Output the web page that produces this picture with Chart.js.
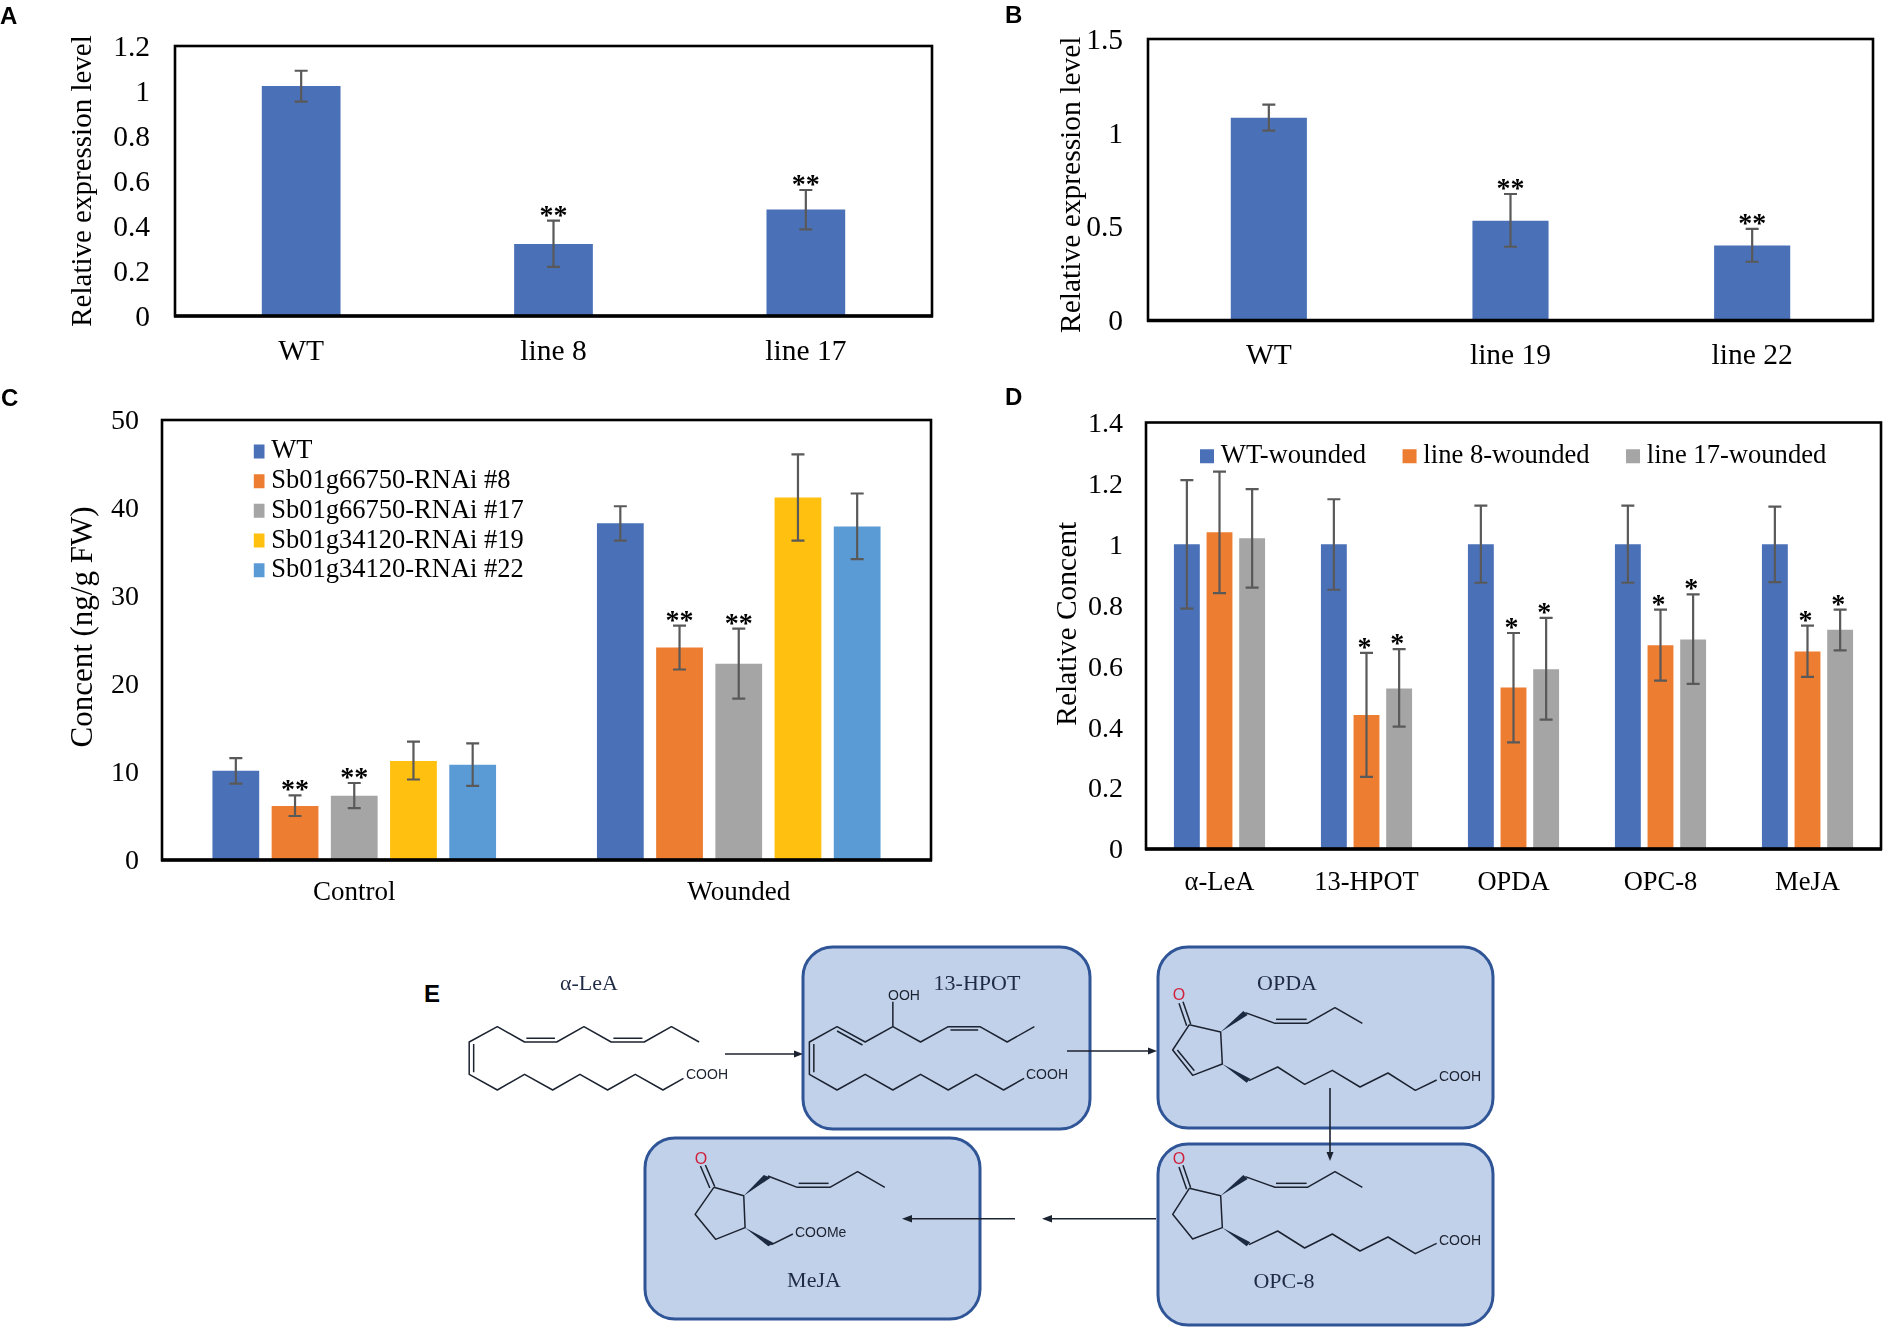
<!DOCTYPE html>
<html>
<head>
<meta charset="utf-8">
<script src="https://cdn.jsdelivr.net/npm/chart.js@4"></script>
<style>
html,body{margin:0;padding:0;background:#fff;width:1883px;height:1327px;overflow:hidden}
canvas{position:absolute}
.tag{position:absolute;font:bold 24px "Liberation Sans";color:#000;line-height:24px}
svg{position:absolute;left:0;top:0}
</style>
</head>
<body>
<canvas id="a" style="left:0;top:0" width="960" height="385"></canvas>
<canvas id="b" style="left:1000px;top:-15px" width="883" height="400"></canvas>
<canvas id="c" style="left:0;top:370px" width="960" height="560"></canvas>
<canvas id="d" style="left:1000px;top:370px" width="883" height="560"></canvas>
<div class="tag" style="left:0;top:4px">A</div>
<div class="tag" style="left:1005px;top:3px">B</div>
<div class="tag" style="left:1px;top:386px">C</div>
<div class="tag" style="left:1005px;top:385px">D</div>
<div class="tag" style="left:424px;top:982px">E</div>

<svg width="1883" height="1327" viewBox="0 0 1883 1327" font-family="Liberation Serif">
  <defs>
    <style>
      .box{fill:#C2D1EA;stroke:#2F5597;stroke-width:3}
      .bond{fill:none;stroke:#1b2230;stroke-width:1.5;vector-effect:non-scaling-stroke;stroke-linejoin:round}
      .wedge{fill:#1b2a40;stroke:none}
      .name{font-size:22px;fill:#1f2a44;text-anchor:middle}
      .grp{font:14px "Liberation Sans";fill:#1b2230}
      .oxy{font:16px "Liberation Sans";fill:#D0213C;text-anchor:middle}
      .arr{stroke:#1b2230;stroke-width:1.6;fill:none}
      .head{fill:#1b2230}
    </style>
  </defs>
  <rect class="box" x="803" y="947" width="287" height="182" rx="30"/>
  <rect class="box" x="1158" y="947" width="335" height="181" rx="30"/>
  <rect class="box" x="1158" y="1144" width="335" height="181" rx="30"/>
  <rect class="box" x="645" y="1138" width="335" height="181" rx="30"/>

  <g transform="translate(400,930) scale(0.44643,0.33333)">
    <polyline class="bond" points="670,336 608,290 547,336 473,336 412,290 351,336 279,336 218,290 155,336 155,433 218,480 279,433 342,480 403,433 465,480 527,433 589,480 635,445"/>
    <path class="bond" d="M478,325H543M283,325H347M165,342V427"/>
    <polyline class="bond" points="1421,290 1360,336 1299,290 1228,290 1166,336 1104,290 1042,336 979,290 917,336 917,433 979,480 1042,433 1104,480 1166,433 1228,480 1290,433 1352,480 1398,445"/>
    <path class="bond" d="M1233,300H1295M979,303L1036,345M927,342V427M1104,290V215"/>
    <polyline class="bond" points="703,772 770,797 773,893 707,928 661,853 703,772"/>
    <path class="bond" d="M705,770L684,705M694,774L673,708"/>
    <polygon class="wedge" points="770,797 815,735 830,743"/>
    <polyline class="bond" points="824,738 890,772 963,772 1025,725 1086,772"/>
    <path class="bond" d="M893,760H960"/>
    <polygon class="wedge" points="773,893 838,940 825,949"/>
    <path class="bond" d="M832,944L880,912"/>
  </g>

  <g transform="translate(1100,930) scale(0.33333,0.33333)">
    <polyline class="bond" points="268,284 362,306 367,402 278,436 218,360 268,284"/>
    <path class="bond" d="M232,360L283,422M272,282L249,215M260,287L237,220"/>
    <polygon class="wedge" points="362,306 430,243 443,255"/>
    <polyline class="bond" points="436,248 525,280 622,280 705,233 787,280"/>
    <path class="bond" d="M528,268H620"/>
    <polygon class="wedge" points="367,402 451,446 440,458"/>
    <polyline class="bond" points="447,452 533,411 614,463 697,421 780,471 864,429 946,481 1010,450"/>

    <polyline class="bond" points="268,775 362,797 367,893 278,927 218,853 268,775"/>
    <path class="bond" d="M272,773L249,706M260,778L237,711"/>
    <polygon class="wedge" points="362,797 430,735 443,747"/>
    <polyline class="bond" points="436,740 525,772 622,772 705,725 787,772"/>
    <path class="bond" d="M528,760H620"/>
    <polygon class="wedge" points="367,893 451,937 440,949"/>
    <polyline class="bond" points="447,944 533,903 614,954 697,912 780,963 864,921 946,971 1010,940"/>
  </g>

  <text class="name" x="589" y="990">α-LeA</text>
  <text class="name" x="977" y="990">13-HPOT</text>
  <text class="name" x="1287" y="990">OPDA</text>
  <text class="name" x="1284" y="1288">OPC-8</text>
  <text class="name" x="814" y="1287">MeJA</text>
  <text class="grp" x="888" y="1000">OOH</text>
  <text class="grp" x="686" y="1079">COOH</text>
  <text class="grp" x="1026" y="1079">COOH</text>
  <text class="grp" x="1439" y="1081">COOH</text>
  <text class="grp" x="1439" y="1245">COOH</text>
  <text class="grp" x="795" y="1237">COOMe</text>
  <text class="oxy" x="701" y="1164">O</text>
  <text class="oxy" x="1179" y="1000">O</text>
  <text class="oxy" x="1179" y="1164">O</text>

  <path class="arr" d="M725,1054H796"/><polygon class="head" points="803,1054 794,1050.5 794,1057.5"/>
  <path class="arr" d="M1067,1051H1150"/><polygon class="head" points="1157,1051 1148,1047.5 1148,1054.5"/>
  <path class="arr" d="M1330,1088V1153"/><polygon class="head" points="1330,1161 1326.500,1152 1333.500,1152"/>
  <path class="arr" d="M1156,1218.700H1050"/><polygon class="head" points="1042,1218.700 1052,1215 1052,1222.400"/>
  <path class="arr" d="M1015,1218.700H910"/><polygon class="head" points="902,1218.700 912,1215 912,1222.400"/>
</svg>

<script>
// ---- Panel A ----
const catsA = ['WT', 'line 8', 'line 17'];
const valsA = [1.022, 0.32, 0.473];
const hiA = [1.09, 0.424, 0.56];
const loA = [0.953, 0.218, 0.385];
const sigA = ['', '**', '**'];
const ticksA = ['0', '0.2', '0.4', '0.6', '0.8', '1', '1.2'];

// ---- Panel B ----
const catsB = ['WT', 'line 19', 'line 22'];
const valsB = [1.08, 0.532, 0.399];
const hiB = [1.15, 0.674, 0.488];
const loB = [1.012, 0.393, 0.313];
const sigB = ['', '**', '**'];
const ticksB = ['0', '0.5', '1', '1.5'];

// ---- Panel C ----
const catsC = ['Control', 'Wounded'];
const namesC = ['WT', 'Sb01g66750-RNAi #8', 'Sb01g66750-RNAi #17', 'Sb01g34120-RNAi #19', 'Sb01g34120-RNAi #22'];
const colorsC = ['#4A71B8', '#ED7D31', '#A5A5A5', '#FFC010', '#5B9BD5'];
const c_wt = [10.14, 38.26], c_wtHi = [11.58, 40.2], c_wtLo = [8.67, 36.3];
const c_8 = [6.15, 24.16], c_8Hi = [7.35, 26.64], c_8Lo = [5.0, 21.65];
const c_17 = [7.31, 22.3], c_17Hi = [8.75, 26.3], c_17Lo = [5.9, 18.33];
const c_19 = [11.26, 41.2], c_19Hi = [13.46, 46.1], c_19Lo = [9.15, 36.3];
const c_22 = [10.82, 37.9], c_22Hi = [13.26, 41.65], c_22Lo = [8.43, 34.2];
const sigC8 = ['**', '**'], sigC17 = ['**', '**'], sigCNone = ['', ''];
const ticksC = ['0', '10', '20', '30', '40', '50'];

// ---- Panel D ----
const catsD = ['α-LeA', '13-HPOT', 'OPDA', 'OPC-8', 'MeJA'];
const namesD = ['WT-wounded', 'line 8-wounded', 'line 17-wounded'];
const colorsD = ['#4A71B8', '#ED7D31', '#A5A5A5'];
const d_wt = [1, 1, 1, 1, 1];
const d_wtHi = [1.211, 1.148, 1.127, 1.127, 1.124];
const d_wtLo = [0.789, 0.851, 0.874, 0.874, 0.876];
const d_8 = [1.04, 0.44, 0.53, 0.669, 0.648];
const d_8Hi = [1.239, 0.644, 0.709, 0.786, 0.733];
const d_8Lo = [0.84, 0.237, 0.35, 0.553, 0.565];
const d_17 = [1.02, 0.527, 0.59, 0.688, 0.72];
const d_17Hi = [1.181, 0.656, 0.759, 0.836, 0.786];
const d_17Lo = [0.858, 0.402, 0.425, 0.542, 0.652];
const sigD = ['', '*', '*', '*', '*'];
const sigDNone = ['', '', '', '', ''];
const ticksD = ['0', '0.2', '0.4', '0.6', '0.8', '1', '1.2', '1.4'];

const SERIF = '"Liberation Serif"';

const panelPlugin = {
  id: 'panelPlugin',
  beforeUpdate(chart, args, o) {
    if (chart.legend && o.legendRow) chart.legend.isHorizontal = () => true;
  },
  beforeDraw(chart, args, o) {
    const lg = chart.legend;
    if (lg && o.legendAt) {
      lg.left = o.legendAt[0];
      lg.top = o.legendAt[1];
      lg.right = chart.width;
      lg.bottom = chart.height;
    }
    const s = chart.scales.y;
    if (!s._shifted) {
      s._shifted = true;
      const origTitle = s.drawTitle.bind(s);
      const origLabels = s.drawLabels.bind(s);
      s.drawTitle = function () {
        chart.ctx.save();
        chart.ctx.translate(0, o.titleShift || 0);
        origTitle();
        chart.ctx.restore();
      };
      s.drawLabels = function (area) {
        chart.ctx.save();
        chart.ctx.translate(0, 2);
        origLabels(area);
        chart.ctx.restore();
      };
    }
  },
  afterDatasetsDraw(chart, args, o) {
    const { ctx, chartArea: a, scales: { y } } = chart;
    chart.data.datasets.forEach((ds, i) => {
      chart.getDatasetMeta(i).data.forEach((bar, j) => {
        const top = y.getPixelForValue(ds.hi[j]);
        const bot = y.getPixelForValue(ds.lo[j]);
        ctx.save();
        ctx.strokeStyle = '#595959';
        ctx.lineWidth = 2.2;
        ctx.beginPath();
        ctx.moveTo(bar.x, top); ctx.lineTo(bar.x, bot);
        ctx.moveTo(bar.x - 6.5, top); ctx.lineTo(bar.x + 6.5, top);
        ctx.moveTo(bar.x - 6.5, bot); ctx.lineTo(bar.x + 6.5, bot);
        ctx.stroke();
        if (ds.sig[j]) {
          ctx.fillStyle = '#000';
          ctx.font = 'bold 28px ' + SERIF;
          ctx.textAlign = 'center';
          ctx.textBaseline = 'alphabetic';
          ctx.fillText(ds.sig[j], bar.x + (o.starDx || 0), top + 3);
        }
        ctx.restore();
      });
    });
    ctx.save();
    ctx.strokeStyle = '#000';
    ctx.lineWidth = 2.6;
    ctx.strokeRect(a.left, a.top, a.right - a.left, a.bottom - a.top);
    ctx.beginPath();
    ctx.lineWidth = 3.4;
    ctx.moveTo(a.left - 1, a.bottom); ctx.lineTo(a.right + 1, a.bottom);
    ctx.stroke();
    ctx.restore();
  }
};

function makeChart(id, p) {
  const cv = document.getElementById(id);
  const lh = p.titleSize * 1.2;
  const legendOpts = p.legendAt ? {
    display: true,
    position: 'chartArea',
    fullSize: false,
    align: 'start',
    labels: {
      color: '#000',
      font: { family: SERIF, size: p.legendSize },
      boxWidth: 1,
      boxHeight: 1,
      padding: p.legendPad,
      generateLabels(chart) {
        return chart.data.datasets.map((ds, i) => ({
          text: ds.label, fillStyle: ds.backgroundColor, strokeStyle: ds.backgroundColor,
          lineWidth: 13, datasetIndex: i, hidden: false, fontColor: '#000'
        }));
      }
    }
  } : { display: false };
  return new Chart(cv, {
    type: 'bar',
    data: { labels: p.cats, datasets: p.datasets },
    plugins: [panelPlugin],
    options: {
      responsive: false,
      animation: false,
      devicePixelRatio: 1,
      layout: { padding: { left: 0, bottom: 0, top: p.plot.top, right: cv.width - p.plot.right } },
      plugins: {
        legend: legendOpts,
        tooltip: { enabled: false },
        panelPlugin: { legendAt: p.legendAt, legendRow: p.legendRow, starDx: p.starDx, titleShift: p.titleShift }
      },
      scales: {
        x: {
          grid: { display: false, drawTicks: false },
          border: { display: false },
          afterFit: s => { s.height = cv.height - p.plot.bottom; },
          ticks: { color: '#000', font: { family: SERIF, size: p.fontSize }, padding: p.xPad, maxRotation: 0, autoSkip: false }
        },
        y: {
          min: 0, max: p.max,
          grid: { display: false, drawTicks: false },
          border: { display: false },
          afterFit: s => { s.width = p.plot.left; },
          ticks: {
            stepSize: p.max / (p.ticks.length - 1),
            autoSkip: false,
            color: '#000',
            padding: p.yPad,
            font: { family: SERIF, size: p.tickSize || p.fontSize },
            callback: (v, i) => p.ticks[i]
          },
          title: {
            display: true,
            text: p.title,
            color: '#000',
            font: { family: SERIF, size: p.titleSize },
            padding: { top: p.titleX - lh / 2, bottom: 0 }
          }
        }
      }
    }
  });
}

const single = (vals, hi, lo, sig, bp) => [{
  label: 'Relative expression level', data: vals, hi, lo, sig,
  backgroundColor: '#4A71B8', categoryPercentage: 1, barPercentage: bp
}];
const groupDs = (label, color, vals, hi, lo, sig, cp, bp) => ({
  label, data: vals, hi, lo, sig, backgroundColor: color, categoryPercentage: cp, barPercentage: bp
});

makeChart('a', {
  cats: catsA, datasets: single(valsA, hiA, loA, sigA, 0.312), ticks: ticksA, max: 1.2,
  title: 'Relative expression level', titleSize: 29, titleX: 83, fontSize: 29.5, xPad: 18.5, yPad: 25,
  plot: { left: 175, right: 932, top: 46, bottom: 316 }
});
makeChart('b', {
  cats: catsB, datasets: single(valsB, hiB, loB, sigB, 0.315), ticks: ticksB, max: 1.5,
  title: 'Relative expression level', titleSize: 29.5, titleX: 72.5, fontSize: 29.5, xPad: 18.5, yPad: 25, titleShift: 5,
  plot: { left: 148, right: 873, top: 54, bottom: 335.5 }
});
makeChart('c', {
  cats: catsC, ticks: ticksC, max: 50,
  datasets: [
    groupDs(namesC[0], colorsC[0], c_wt, c_wtHi, c_wtLo, sigCNone, 0.77, 0.79),
    groupDs(namesC[1], colorsC[1], c_8, c_8Hi, c_8Lo, sigC8, 0.77, 0.79),
    groupDs(namesC[2], colorsC[2], c_17, c_17Hi, c_17Lo, sigC17, 0.77, 0.79),
    groupDs(namesC[3], colorsC[3], c_19, c_19Hi, c_19Lo, sigCNone, 0.77, 0.79),
    groupDs(namesC[4], colorsC[4], c_22, c_22Hi, c_22Lo, sigCNone, 0.77, 0.79)
  ],
  title: 'Concent (ng/g FW)', titleSize: 31, titleX: 83.5, fontSize: 27, tickSize: 28, legendSize: 26.5, xPad: 17, yPad: 23, titleShift: -13,
  plot: { left: 162, right: 931, top: 50, bottom: 490 },
  legendAt: [253.8, 65], legendPad: 3.2
});
makeChart('d', {
  cats: catsD, ticks: ticksD, max: 1.4, starDx: -2,
  datasets: [
    groupDs(namesD[0], colorsD[0], d_wt, d_wtHi, d_wtLo, sigDNone, 0.666, 0.793),
    groupDs(namesD[1], colorsD[1], d_8, d_8Hi, d_8Lo, sigD, 0.666, 0.793),
    groupDs(namesD[2], colorsD[2], d_17, d_17Hi, d_17Lo, sigD, 0.666, 0.793)
  ],
  title: 'Relative Concent', titleSize: 29.5, titleX: 68.5, fontSize: 26.5, tickSize: 28, legendSize: 26.6, xPad: 18, yPad: 23, titleShift: -12,
  plot: { left: 146, right: 881, top: 52.5, bottom: 479 },
  legendAt: [163.5, 30], legendPad: 43, legendRow: true
});
</script>
</body>
</html>
